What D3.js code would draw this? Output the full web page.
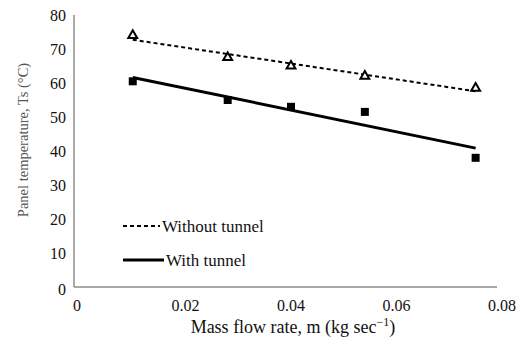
<!DOCTYPE html>
<html><head><meta charset="utf-8">
<script src="https://cdn.jsdelivr.net/npm/d3@7"></script>
<style>body{margin:0;background:#fff}svg{display:block}</style>
</head><body>
<script>
const massFlow = [0.01, 0.028, 0.04, 0.054, 0.075];
const withoutTunnel = [74, 67.5, 65, 62, 58.5];
const withTunnel = [60.5, 55, 53, 51.5, 38];
const xTicks = [0, 0.02, 0.04, 0.06, 0.08];
const yTicks = [0, 10, 20, 30, 40, 50, 60, 70, 80];

const W = 526, H = 350;
const svg = d3.select("body").append("svg").attr("width", W).attr("height", H);
const font = "Liberation Serif";

const x = d3.scaleLinear().domain([0, 0.08]).range([80, 502]);
const y = d3.scaleLinear().domain([0, 80]).range([287, 15]);

// axis lines
svg.append("line").attr("x1", 74).attr("x2", 74).attr("y1", y(80)).attr("y2", y(0))
  .attr("stroke", "#8c8c8c").attr("stroke-width", 1.5);
svg.append("line").attr("x1", 74).attr("x2", 497).attr("y1", y(0)).attr("y2", y(0))
  .attr("stroke", "#8c8c8c").attr("stroke-width", 1.5);

// y tick labels
svg.append("g").selectAll("text").data(yTicks).join("text")
  .attr("x", 66).attr("y", d => y(d) + 6 + (d === 0 ? 2 : 0))
  .attr("text-anchor", "end").attr("font-family", font).attr("font-size", 16)
  .attr("fill", "#111").text(d => d);

// x tick labels
svg.append("g").selectAll("text").data(xTicks).join("text")
  .attr("x", d => x(d) - (d === 0 ? 3 : 0)).attr("y", 311)
  .attr("text-anchor", "middle").attr("font-family", font).attr("font-size", 16)
  .attr("fill", "#111").text(d => d === 0 ? "0" : d.toFixed(2));

// axis titles
svg.append("text").attr("transform", "translate(28,140) rotate(-90)")
  .attr("text-anchor", "middle").attr("font-family", font).attr("font-size", 14.5)
  .attr("fill", "#555").text("Panel temperature, Ts (°C)");
const xt = svg.append("text").attr("x", 293).attr("y", 333)
  .attr("text-anchor", "middle").attr("font-family", font).attr("font-size", 18)
  .attr("fill", "#111");
xt.append("tspan").text("Mass flow rate, m (kg sec");
xt.append("tspan").attr("dy", -7).attr("font-size", 12).text("−1");
xt.append("tspan").attr("dy", 7).text(")");

// linear regression trend lines
function fit(xs, ys) {
  const mx = d3.mean(xs), my = d3.mean(ys);
  const b = d3.sum(xs.map((v, i) => (v - mx) * (ys[i] - my))) / d3.sum(xs.map(v => (v - mx) ** 2));
  const a = my - b * mx;
  const x0 = d3.min(xs), x1 = d3.max(xs);
  return [[x0, a + b * x0], [x1, a + b * x1]];
}
const line = d3.line().x(d => x(d[0])).y(d => y(d[1]));
svg.append("path").attr("d", line(fit(massFlow, withoutTunnel)))
  .attr("fill", "none").attr("stroke", "#000").attr("stroke-width", 2).attr("stroke-dasharray", "4,3");
svg.append("path").attr("d", line(fit(massFlow, withTunnel)))
  .attr("fill", "none").attr("stroke", "#000").attr("stroke-width", 3);

// markers
const tri = d3.symbol().type(d3.symbolTriangle).size(34);
svg.append("g").selectAll("path").data(massFlow).join("path")
  .attr("d", tri).attr("transform", (d, i) => `translate(${x(d)},${y(withoutTunnel[i])})`)
  .attr("fill", "#fff").attr("stroke", "#000").attr("stroke-width", 2);
svg.append("g").selectAll("rect").data(massFlow).join("rect")
  .attr("x", d => x(d) - 4).attr("y", (d, i) => y(withTunnel[i]) - 4)
  .attr("width", 8).attr("height", 8).attr("fill", "#000");

// legend
svg.append("line").attr("x1", 123).attr("x2", 160).attr("y1", 226).attr("y2", 226)
  .attr("stroke", "#000").attr("stroke-width", 2).attr("stroke-dasharray", "4,3");
svg.append("text").attr("x", 162).attr("y", 232).attr("font-family", font).attr("font-size", 17)
  .attr("fill", "#111").text("Without tunnel");
svg.append("line").attr("x1", 123).attr("x2", 164).attr("y1", 260).attr("y2", 260)
  .attr("stroke", "#000").attr("stroke-width", 3);
svg.append("text").attr("x", 166).attr("y", 266).attr("font-family", font).attr("font-size", 17)
  .attr("fill", "#111").text("With tunnel");
</script>
</body></html>
